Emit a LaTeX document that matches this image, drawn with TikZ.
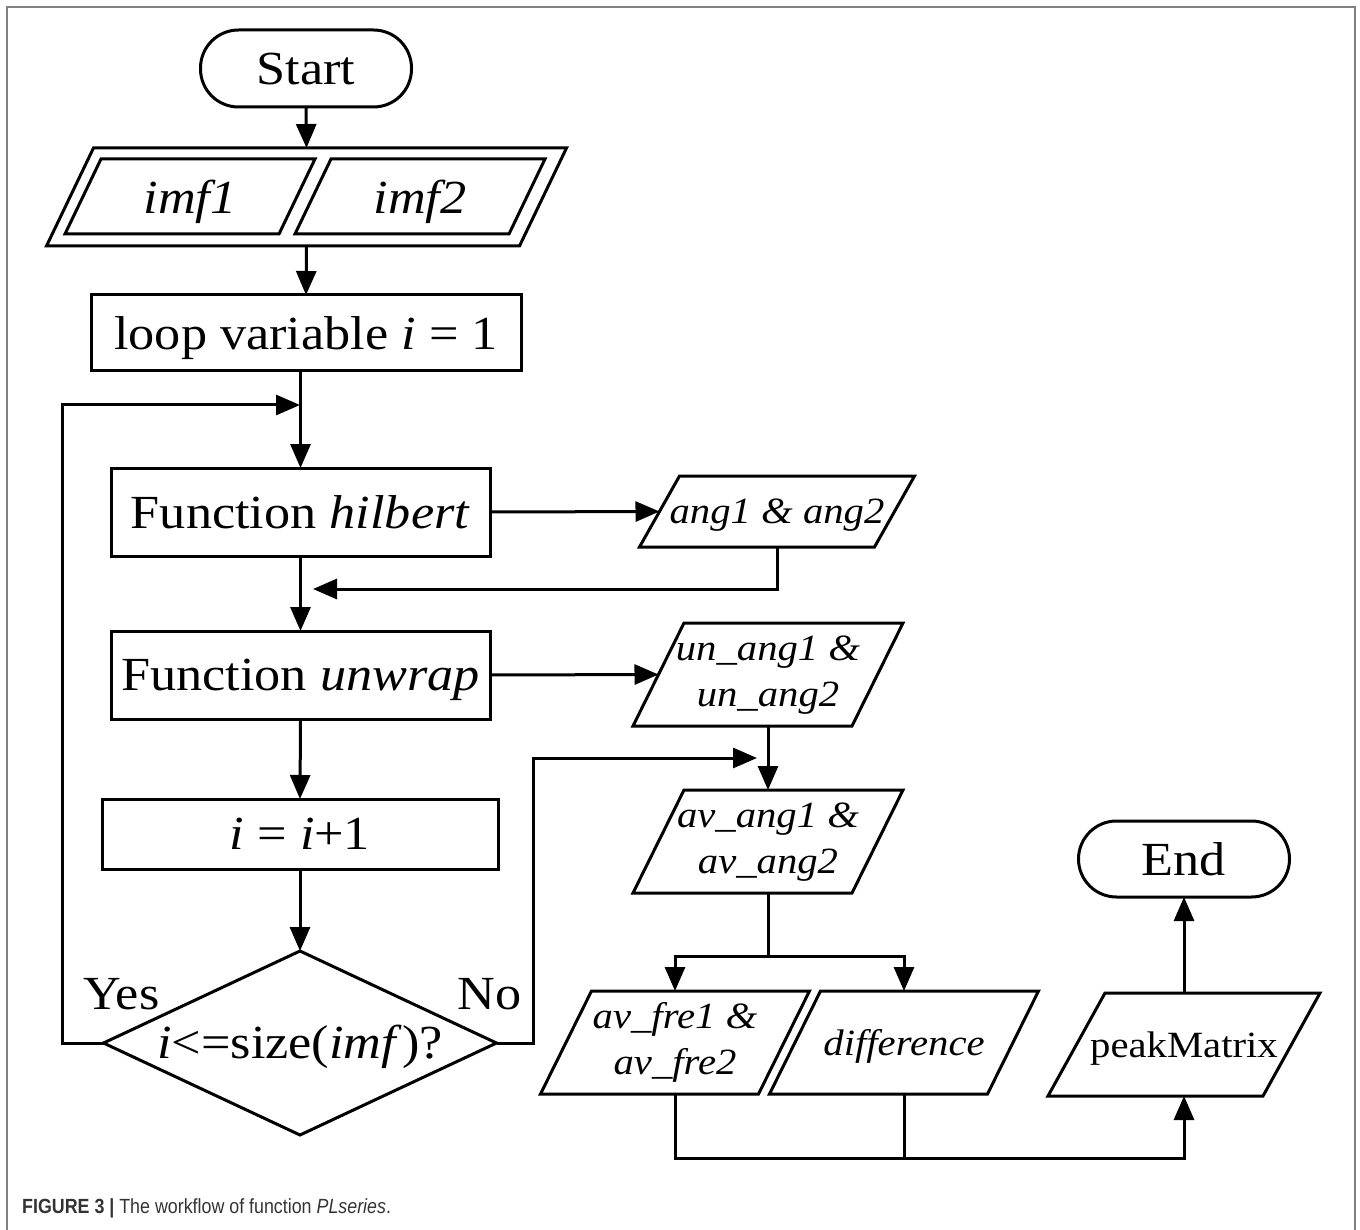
\documentclass[tikz,border=0pt]{standalone}
\usepackage{fontspec}
\usepackage{graphicx}
\setmainfont{Liberation Serif}
\newfontfamily\capfont{Liberation Sans}
\usetikzlibrary{arrows.meta,shapes.geometric,calc}
\newcommand\hs[1]{\scalebox{1.1}[1]{#1}}
\newcommand\bigfs{\fontsize{47.5}{56}\selectfont}
\newcommand\smallfs{\fontsize{37}{46}\selectfont}
\newcommand\drawpara[2]{\draw[ln] ($(#1.north west)+(#2/2,0)$) -- ($(#1.north east)+(#2/2,0)$) -- ($(#1.south east)-(#2/2,0)$) -- ($(#1.south west)-(#2/2,0)$) -- cycle;}
\tikzset{
  ln/.style={line width=3pt},
  arr/.style={ln,-{Triangle[length=24pt,width=20pt]}},
  box/.style={draw,ln,rectangle,inner sep=0pt,outer sep=0pt,font=\bigfs,text depth=0pt},
  pill/.style={box,rounded corners=38pt},
  pbox/.style={rectangle,inner sep=0pt,outer sep=0pt,font=\smallfs},
  nd/.style={text depth=0pt},
  lbl/.style={inner sep=0pt,outer sep=0pt,font=\bigfs,anchor=base},
}
\begin{document}
\begin{tikzpicture}[x=1pt,y=-1pt]
\useasboundingbox (0,0) rectangle (1360,1230);
% frame
\draw[line width=2pt,black!50] (7,1230) -- (7,7) -- (1355,7) -- (1355,1230);

% main column
\node[pill,minimum width=211pt,minimum height=77pt] (start) at (306,68.5) {\hs{Start}};
\node[pbox,minimum width=473pt,minimum height=98pt] (imfo) at (306.5,197) {};
\node[pbox,nd,font=\bigfs,minimum width=214pt,minimum height=75pt] (imf1) at (190,196.5) {\hs{\textit{imf1}}};
\node[pbox,nd,font=\bigfs,minimum width=214pt,minimum height=75pt] (imf2) at (420,196.5) {\hs{\textit{imf2}}};
\drawpara{imfo}{47}
\drawpara{imf1}{36}
\drawpara{imf2}{36}
\node[box,minimum width=430pt,minimum height=76pt] (loop) at (306,333) {\hs{loop variable \textit{i} = 1}};
\node[box,minimum width=379pt,minimum height=88pt] (hil) at (300.5,512) {\hs{Function \textit{hilbert}}};
\node[box,minimum width=379pt,minimum height=88pt] (unw) at (300.5,675) {\hs{Function \textit{unwrap}}};
\node[box,minimum width=396pt,minimum height=70pt] (inc) at (300,834) {\hs{\textit{i} = \textit{i}+1}};
\node[draw,ln,diamond,minimum width=393pt,minimum height=184pt,inner sep=0pt,outer sep=0pt] (dec) at (300,1043) {};
\node[lbl] (dectxt) at (300,1058) {\hs{\textit{i}<=size(\textit{imf})?}};
\node[lbl] (yes) at (121.5,1009) {\hs{Yes}};
\node[lbl] (no) at (489.5,1009) {\hs{No}};

% right column
\node[pbox,nd,minimum width=235pt,minimum height=71pt] (ang) at (777,511.5) {\hs{\textit{ang1 \& ang2}}};
\drawpara{ang}{40}
\node[pbox,minimum width=219pt,minimum height=103pt] (unang) at (768,674.5) {\hs{\begin{tabular}{@{}c@{}}\textit{un\_ang1 \&}\\\textit{un\_ang2}\end{tabular}}};
\drawpara{unang}{51}
\node[pbox,minimum width=219pt,minimum height=103pt] (avang) at (768,841.5) {\hs{\begin{tabular}{@{}c@{}}\textit{av\_ang1 \&}\\\textit{av\_ang2}\end{tabular}}};
\drawpara{avang}{51}
\node[pbox,minimum width=218pt,minimum height=103pt] (avfre) at (675,1042.5) {\hs{\begin{tabular}{@{}c@{}}\textit{av\_fre1 \&}\\\textit{av\_fre2}\end{tabular}}};
\drawpara{avfre}{51}
\node[pbox,nd,minimum width=218pt,minimum height=103pt] (diff) at (904,1042.5) {\hs{\textit{difference}}};
\drawpara{diff}{51}
\node[pbox,nd,minimum width=215pt,minimum height=103pt] (pm) at (1184,1044.5) {\hs{peakMatrix}};
\drawpara{pm}{57}
\node[pill,minimum width=211pt,minimum height=76pt] (end) at (1184,859) {\hs{End}};

% helper coordinates
\coordinate (yesturn) at (62,1043);
\coordinate (loopin) at (300,405);
\coordinate (fbin) at (313,589);
\coordinate (noturn) at (533,1043);
\coordinate (noin) at (757,758);
\coordinate (branch) at (768,956);
\coordinate (merge) at (1184,1158);

% connectors
\draw[arr] (start.south) -- (imfo.north);
\draw[arr] (imfo.south) -- (loop.north);
\draw[arr] (hil.north |- loop.south) -- (hil.north);
\draw[arr] (dec.west) -- (yesturn) |- (loopin);
\draw[arr] (hil.east) -- (ang.west);
\draw[arr] (ang.south) |- (fbin);
\draw[arr] (hil.south) -- (unw.north);
\draw[arr] (unw.east) -- (unang.west);
\draw[arr] (unw.south) -- (inc.north);
\draw[arr] (inc.south) -- (dec.north);
\draw[arr] (dec.east) -- (noturn) |- (noin);
\draw[arr] (unang.south) -- (avang.north);
\draw[ln] (avang.south) -- (branch);
\draw[arr] (branch) -| (avfre.north);
\draw[arr] (branch) -| (diff.north);
\draw[arr] (avfre.south) |- (merge) -- (pm.south);
\draw[ln] (diff.south) -- (diff.south |- merge);
\draw[arr] (pm.north) -- (end.south);

% caption
\node[anchor=base west,inner sep=0pt,font=\capfont\fontsize{20.5}{22}\selectfont,text=black!80] (cap) at (22,1213) {\scalebox{0.87}[1]{\textbf{FIGURE 3 |} The workflow of function \textit{PLseries}.}};
\end{tikzpicture}
\end{document}
